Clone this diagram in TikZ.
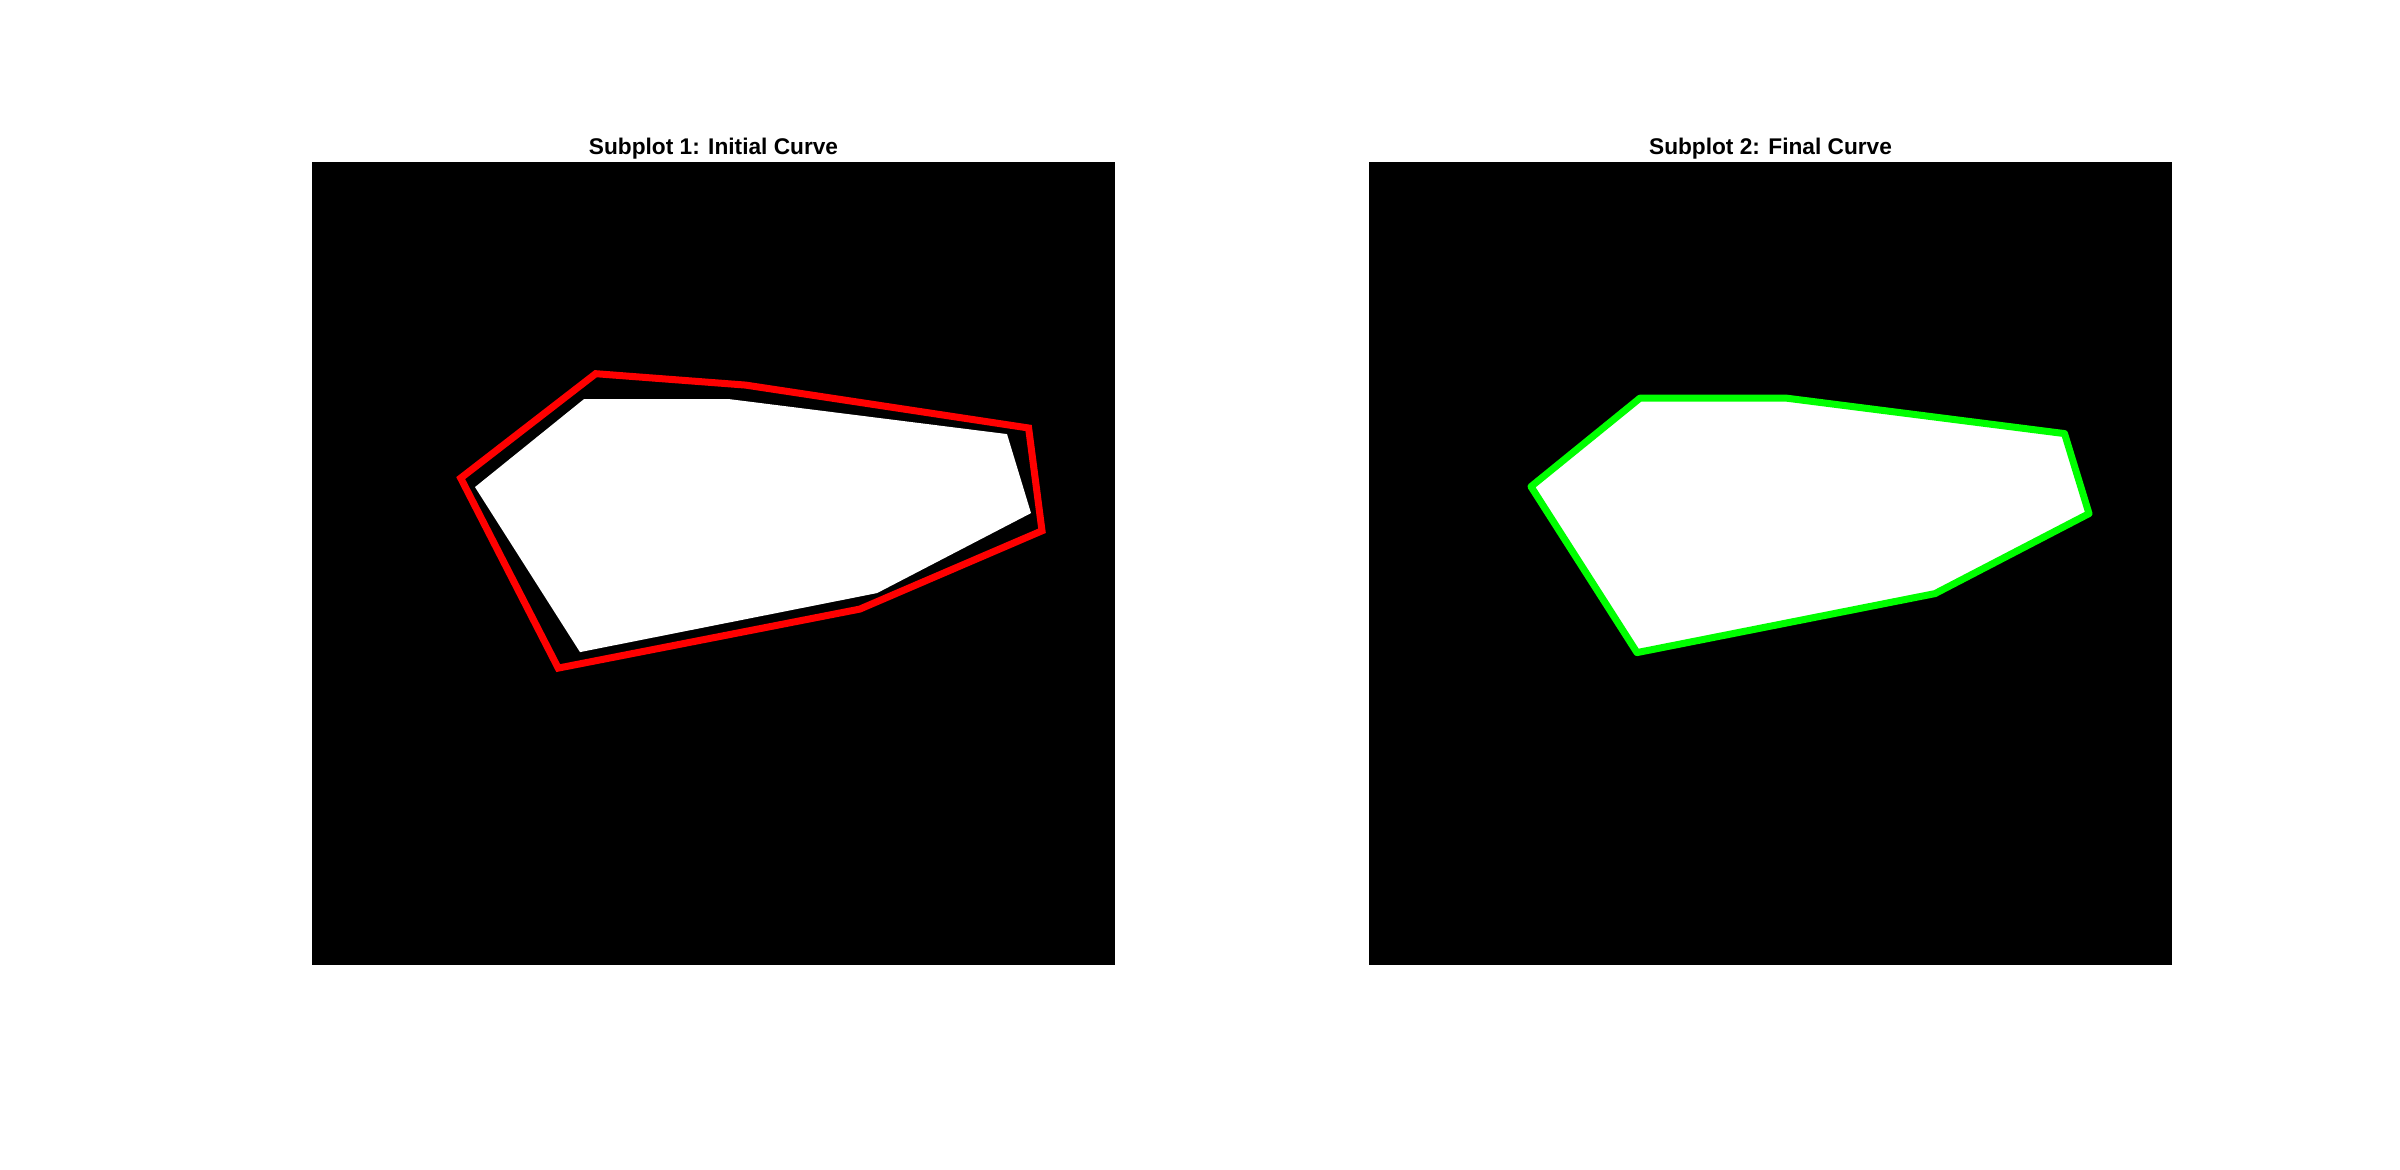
\documentclass[tikz,border=0pt]{standalone}
\usepackage{fontspec}
\setmainfont{Liberation Sans}
\usetikzlibrary{positioning}
\definecolor{curvered}{HTML}{FF0000}
\definecolor{curvegreen}{HTML}{00FF00}

\begin{document}
\begin{tikzpicture}[
  x=0.01cm, y=-0.01cm,
  every node/.style={font=\fontsize{6.45}{7.5}\selectfont\bfseries},
  panel/.style={fill=black},
  region/.style={fill=white},
  contour/.style={line width=0.07cm}
]
\useasboundingbox (0,0) rectangle (2400,1170);

% Two panels side by side: initial contour, final contour
\foreach \panel/\title in {312/Subplot 1: Initial Curve, 1369/Subplot 2: Final Curve} {
  \begin{scope}[xshift=\panel*0.01cm, yshift=-1.62cm]
    \fill[panel] (0,0) rectangle (803,803);
    \node[anchor=base] (title\panel) at (401.5,-8) {\title};

    % segmented object (same in both panels)
    \fill[region] (272,237) -- (417,237) -- (695,272) -- (719,351)
      -- (565,431) -- (268,490) -- (163,325) -- cycle;

    \ifnum\panel=312
      % initial curve, drawn outside the object
      \draw[contour, draw=curvered, line join=miter]
        (283.7,211.6) -- (433.7,223) -- (716.6,265.9) -- (730,368.7)
        -- (547.8,447) -- (246.2,506) -- (148.7,316) -- cycle;
    \else
      % final curve, on the object's boundary
      \draw[contour, draw=curvegreen, line join=round]
        (271,236) -- (417,236) -- (695.5,271.5) -- (720,351.5)
        -- (566,431.5) -- (268,490.5) -- (162,324.5) -- cycle;
    \fi
  \end{scope}
}
\end{tikzpicture}
\end{document}
